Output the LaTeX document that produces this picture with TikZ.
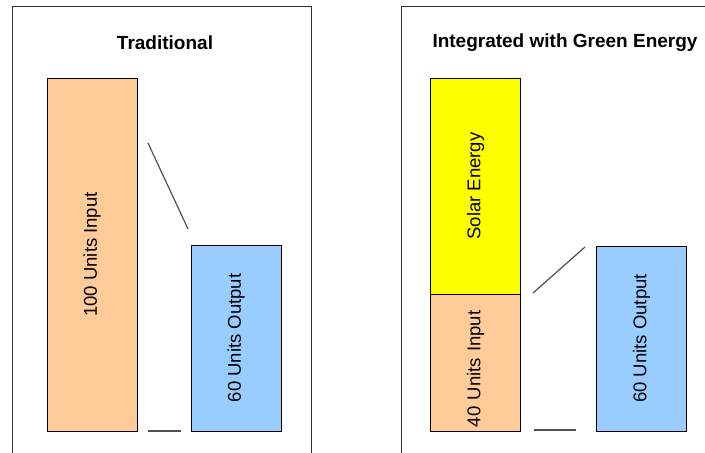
\documentclass[tikz,border=0pt]{standalone}
\usepackage{fontspec}
\setmainfont{Liberation Sans}
\usetikzlibrary{positioning}
\definecolor{inputcolor}{RGB}{255,204,153}
\definecolor{outputcolor}{RGB}{153,204,255}
\definecolor{solarcolor}{RGB}{255,255,0}
\definecolor{framecolor}{RGB}{50,50,50}
\definecolor{linkcolor}{RGB}{80,80,80}

\begin{document}
\begin{tikzpicture}[
    x=1pt, y=1pt,
    bar/.style={rectangle, draw=black, line width=0.9pt, rotate=90, minimum height=90pt, inner sep=3pt, font=\fontsize{18.5}{22}\selectfont, text centered},
    inbar/.style={bar, fill=inputcolor},
    outbar/.style={bar, fill=outputcolor},
    solarbar/.style={bar, fill=solarcolor},
    heading/.style={font=\fontsize{19}{23}\selectfont\bfseries},
    frame/.style={draw=framecolor, line width=1pt},
    link/.style={draw=linkcolor, line width=1.2pt}
]
\useasboundingbox (0,0) rectangle (705,-453);

% Panels
\draw[frame] (12,-453) -- (12,-6) -- (311,-6) -- (311,-453);
\draw[frame] (401,-453) -- (401,-6) -- (705,-6);

% Traditional
\node[heading] (trad) at (165,-43) {Traditional};
\node[inbar, minimum width=353pt] (in1) at (92,-254.5) {100 Units Input};
\node[outbar, minimum width=186pt] (out1) at (236,-338) {60 Units Output};

% Integrated with green energy
\node[heading] (green) at (565,-43) {Integrated with Green Energy};
\node[solarbar, minimum width=216pt] (solar) at (475.5,-186) {Solar Energy};
\node[inbar, minimum width=137pt, text width=129pt, align=left] (in2) at (475.5,-362.5) {40 Units Input};
\node[outbar, minimum width=185pt] (out2) at (641.5,-338.5) {60 Units Output};

% Links
\coordinate (a1) at (148,-143);
\coordinate (b1) at (188,-229);
\coordinate (c1) at (148,-431);
\coordinate (d1) at (181,-431);
\coordinate (a2) at (533,-293);
\coordinate (b2) at (585,-247);
\coordinate (c2) at (534,-430);
\coordinate (d2) at (576,-430);
\foreach \source/\dest in {a1/b1, c1/d1, a2/b2, c2/d2} {
    \draw[link] (\source) -- (\dest);
}

\end{tikzpicture}
\end{document}
